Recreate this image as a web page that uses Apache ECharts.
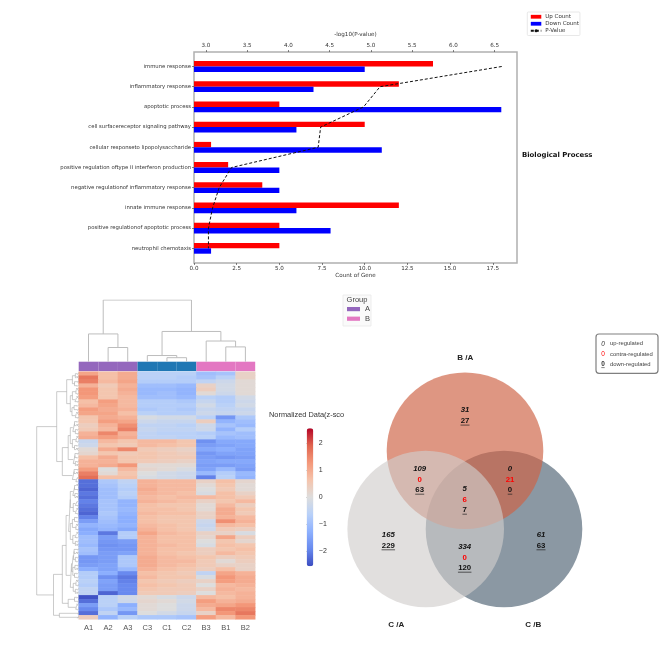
<!DOCTYPE html>
<html><head><meta charset="utf-8">
<style>html,body{margin:0;padding:0;background:#fff}#c{width:667px;height:667px;filter:blur(.3px)}</style>
<script src="https://cdn.jsdelivr.net/npm/echarts@6/dist/echarts.min.js"></script>
</head><body><div id="c"></div>
<script>
// ---------- bar chart data ----------
const terms = ['immune response','inflammatory response','apoptotic process','cell surfacereceptor signaling pathway','cellular responseto lipopolysaccharide','positive regulation oftype II interferon production','negative regulationof inflammatory response','innate immune response','positive regulationof apoptotic process','neutrophil chemotaxis'];
const upCount = [14,12,5,10,1,2,4,12,5,5];
const downCount = [10,7,18,6,11,5,5,6,8,1];
const pValue = [6.585,5.11,4.91,4.39,4.36,3.31,3.16,3.08,3.03,3.03];
const countTicks = [0,2.5,5,7.5,10,12.5,15,17.5];
const pTicks = [3,3.5,4,4.5,5,5.5,6,6.5];
// ---------- heatmap data ----------
const samples = ['A1','A2','A3','C3','C1','C2','B3','B1','B2'];
const sampleGroup = ['A','A','A','C','C','C','B','B','B'];
const heatRows = [
[1.1,.7,1,-.6,-.6,-.6,-1,-.9,.3],[1.7,.7,1,-.6,-.6,-.7,-.9,-.6,.3],[1.6,.8,1.1,-.7,-.7,-.7,-.5,-.3,.1],
[.9,.5,.9,-1,-1,-1.1,.3,-.2,.1],[1.3,.6,1,-1.1,-1.1,-1.2,.4,-.2,.1],[1.3,.6,.9,-1.1,-1,-1.2,.1,-.3,.1],
[1.2,.6,.8,-1,-1,-1.1,-.6,-.7,-.2],[.7,1.2,.8,-.7,-.7,-.8,-.4,-.7,-.3],[.8,1.1,.8,-.7,-.7,-.7,-.2,-.6,-.2],
[1.2,1,.9,-.8,-.7,-.8,-.4,-.5,-.4],[1.1,1.1,.7,-.6,-.7,-.7,-.3,-.4,-.3],[.6,1,.9,-.1,-.2,-.2,-.6,-1.7,-.8],
[.6,1.2,1.1,-.3,-.4,-.4,.4,-1.2,-1],[.4,.9,1.4,-.5,-.5,-.6,-.3,-.9,-1.1],[.5,.8,1.6,-.4,-.5,-.5,-.3,-1.2,-.7],
[.9,1.5,.9,-.5,-.6,-.6,-.7,-.9,-1],[1,1.2,1,-.5,-.5,-.6,-.6,-1.1,-1],[-.4,.8,.6,.8,.8,.6,-1.8,-1.4,-1.4],
[-.3,.6,.5,.8,.7,.6,-1.6,-1.5,-1.4],[.1,1,1.5,.5,.4,.3,-1.4,-1.3,-1.5],[.2,.6,.5,.6,.5,.4,-1.7,-1.5,-1.5],
[.7,1,.6,.6,.5,.5,-1.6,-1.7,-1.6],[.9,.9,.6,.5,.4,.3,-1.5,-1.4,-1.4],[.9,1,1.3,.1,.1,.1,-1.6,-1.6,-1.5],
[1.2,0,.8,.2,.1,-.1,-1.5,-1.1,-1.6],[1.6,.1,.6,0,-.2,-.3,-1.1,-.7,-1.1],[1.8,.7,.7,-.1,-.2,-.3,-2,-.6,-1.2],
[-2.2,-.8,-.5,.9,.8,.8,.3,.7,.2],[-2.2,-.9,-.6,.9,.8,.8,.1,.6,.1],[-2.3,-1,-.7,1,.8,.8,0,.5,.1],
[-2.1,-1,-.6,.9,.8,.7,-.1,.7,.3],[-2.2,-1,-.7,.8,.7,.8,.8,.7,.5],[-2,-.9,-1.2,.9,.8,.7,.3,.6,.8],
[-2.1,-.9,-1.2,.7,.6,.6,.1,.8,.4],[-2.2,-.9,-1.1,.7,.7,.6,.1,1,.6],[-2.3,-.8,-1.2,.8,.7,.7,.3,1,.5],
[-2,-.9,-1.3,.7,.6,.6,.3,.9,.8],[-1.6,-1,-1.3,.7,.6,.6,-.3,1.4,.9],[-1.2,-1.1,-1.2,.8,.7,.6,-.4,.8,.7],
[-1.4,-1.2,-1.4,.9,.7,.6,-.3,.5,.4],[-1.3,-2.1,-.7,1.1,.8,.7,.3,.3,-.1],[-1,-1.6,-.7,.9,.7,.7,.2,1.1,.4],
[-1,-1.7,-1.6,.9,.7,.7,0,.6,.2],[-1.1,-1.8,-1.7,.9,.8,.7,-.1,.7,.6],[-.9,-1.7,-1.7,.9,.7,.7,.4,.6,.7],
[-1,-1.6,-1.5,.9,.7,.6,.4,.8,.6],[-1.7,-1.6,-.8,1,.8,.7,.6,.4,.5],[-1.7,-1.6,-.8,1,.8,.8,.5,.1,.4],
[-1.6,-1.5,-.8,1,.8,.7,.5,.3,.3],[-1.3,-1.5,-1.1,.9,.7,.6,.4,.7,.3],[-.7,-1.3,-1.9,.7,.6,.5,-.5,1.1,.9],
[-.7,-1.8,-2.1,.8,.6,.6,-.1,1.3,1],[-.6,-1.5,-2,.6,.5,.4,.3,1.2,1],[-.7,-1.6,-1.9,.7,.6,.5,0,.8,.9],
[-.5,-1.6,-1.9,.6,.5,.5,.3,.9,.8],[-.5,-2.3,-1.9,.5,.5,.4,0,.8,.9],[-2.5,-.6,-.2,.1,-.1,-.3,.8,.7,.9],
[-2.2,-.6,-.3,.2,.1,-.2,1.2,.9,1],[-1.6,-.6,-1.3,.1,0,-.3,1,1.1,1.3],[-1.9,-.8,-1.1,.1,0,-.3,.8,1.5,1.5],
[-2.2,-.5,-1.7,0,-.2,-.4,.3,1.3,1.7],[.4,-1.2,-.6,-.8,-.8,-.9,1.2,.8,1.3]];
const colorTicks = [-2,-1,0,1,2];
const colorRange = 2.565;
// dendrogram merges: [posA, heightA, posB, heightB, mergeHeight]
const colMerges = [[1.5,0,2.5,0,.23],[.5,0,2,.23,.45],[4.5,0,5.5,0,.065],[3.5,0,5,.065,.1],[7.5,0,8.5,0,.24],[6.5,0,8,.24,.335],[4.25,.1,7.25,.335,.49],[1.25,.45,5.75,.49,1]];
const rowLeafHeights = [.03,.05,.02,.04,.06,.03,.05,.02,.04,.03,.06,.02,.04,.05,.03,.02,.05,.03,.04,.06,.02,.04,.03,.05,.02,.06,.03,.04,.05,.02,.03,.06,.04,.02,.05,.03,.04,.03,.06,.02,.05,.04,.03,.05,.02,.06,.03,.04,.02,.05,.04,.03,.06,.02,.03,.05,.04,.02,.05,.03,.02,.03];
const rowPairHeights = [.08,.1,.07,.09,.11,.08,.1,.08,.07,.1,.09,.08,.11,.07,.1,.09,.08,.08,.1,.07,.09,.08,.11,.08,.09,.1,.07,.08,.1,.07];
const rowMerges = [
[1,.08,3,.1,.15],[5,.07,7,.09,.15],[9,.11,11,.08,.16],[13,.1,15,.08,.14],[17,.07,19,.1,.15],[21,.09,23,.08,.13],[25,.11,27,.07,.15],
[29,.1,31,.09,.14],[33,.08,35,.08,.13],[37,.1,39,.07,.15],[41,.09,43,.08,.14],[45,.11,47,.08,.13],[49,.09,51,.1,.14],[53,.07,55,.08,.13],[57,.1,59,.07,.25],
[6,.15,10,.16,.2],[2,.15,8,.2,.286],[14,.14,18,.15,.2],[16,.2,22,.13,.25],[19,.25,26,.15,.39],[5,.286,22.5,.39,.524],
[30,.14,34,.13,.2],[38,.15,42,.14,.2],[32,.2,40,.2,.24],[46,.13,50,.14,.17],[48,.17,54,.13,.2],[36,.24,51,.2,.3],[43.5,.3,58,.25,.39],
[60.5,0,61.5,0,.46],[50.75,.39,61,.46,.6],[13.75,.524,55.9,.6,1]];
// ---------- venn data ----------
const vennSets = ['B /A','C /A','C /B'];
const vennRegionUp = [31,109,0,5,165,61,334];
const vennRegionContra = [null,0,21,6,null,null,0];
const vennRegionDown = [27,63,0,7,229,63,120];
// ---------- layout / style ----------
const vennCircleAt = [[125,110.7],[85.7,189],[164,189]];
const vennCircleColor = ['rgba(206,98,68,.67)','rgba(208,205,203,.64)','rgb(139,152,163)'];
const vennLabelAt = [[125.3,17.3],[56.3,285],[193.3,285]];
const vennRegionAt = [[125,70.3],[79.7,129],[170,129],[124.7,149],[48.3,195],[201,195],[124.7,207]];
const groupColor = {A:'#9467bd',B:'#e377c2',C:'#1f77b4'};
const coolwarm = ['#3b4cc0','#6889ee','#8db0fe','#b8d0f9','#dddddd','#f5c4ac','#f4987a','#e0654f','#b40426'];
const DJ = '"DejaVu Sans"', LS = '"Liberation Sans"';

function uPath(m, horizontal){
  const pts = [];
  m.forEach(([a,ha,b,hb,h]) => {
    if (horizontal) pts.push([a,ha],[a,h],[b,h],[b,hb],[null,null]);
    else pts.push([ha,a],[h,a],[h,b],[hb,b],[null,null]);
  });
  return pts;
}
const rowLeafMerges = rowLeafHeights.map((h,i)=>[i+.25,0,i+.75,0,h]);
const rowPairMerges = rowPairHeights.map((h,i)=>[2*i+.5,rowLeafHeights[2*i],2*i+1.5,rowLeafHeights[2*i+1],h]);
const hidden = (o)=>Object.assign({show:false},o);
const heatData = [];
heatRows.forEach((row,r)=>row.forEach((v,c)=>heatData.push([c,r,v])));

// venn text lines
const vennLines = [];
vennRegionUp.forEach((u,i)=>{
  const [x,y0]=vennRegionAt[i]; let y=y0;
  vennLines.push({x,y,t:String(u),k:'up'}); y+=10.4;
  if(vennRegionContra[i]!==null){vennLines.push({x,y,t:String(vennRegionContra[i]),k:'contra'}); y+=10.4;}
  vennLines.push({x,y,t:String(vennRegionDown[i]),k:'down'});
});

function txt(text,x,y,font,fill,align){return {type:'text',silent:true,x,y,style:{text,font,fill:fill||'#222',align:align||'left',verticalAlign:'middle'}};}

const chart = echarts.init(document.getElementById('c'),null,{renderer:'canvas'});
chart.setOption({
  animation:false, backgroundColor:'#fff',
  legend:{orient:'vertical',left:527.3,top:12,padding:[1.5,1,1.5,2.5],itemWidth:10.5,itemHeight:3.8,itemGap:0.5,
    borderColor:'#e2e2e2',borderWidth:.8,borderRadius:1,selectedMode:false,
    textStyle:{fontSize:5.5,fontFamily:DJ,color:'#333',lineHeight:6.5,padding:[0,0,0,-1]},
    data:[{name:'Up Count',icon:'rect'},{name:'Down Count',icon:'rect'},{name:'P-Value'}]},
  grid:[
    {left:194,top:56.4,width:323,height:202},
    {left:78.7,top:371.7,width:176.5,height:247.6},
    {left:78.7,top:361.7,width:176.5,height:9.4},
    {left:78.7,top:300,width:176.5,height:61.7},
    {left:36.7,top:371.7,width:42,height:247.6},
    {left:306.7,top:428.3,width:6.6,height:138},
    {left:340,top:340,width:240,height:300},
    {left:194,top:52,width:323,height:211,show:true,borderColor:'#b0b0b0',borderWidth:1.5,backgroundColor:'transparent'}
  ],
  xAxis:[
    {type:'value',gridIndex:0,min:0,max:18.92,position:'bottom',offset:4.6,splitLine:{show:false},axisLine:{show:false},
      axisTick:{show:true,length:2,customValues:countTicks,lineStyle:{color:'#333',width:.6}},
      axisLabel:{fontSize:5.6,fontFamily:DJ,color:'#333',margin:3,customValues:countTicks,formatter:v=>v.toFixed(1)},
      name:'Count of Gene',nameLocation:'middle',nameGap:10,nameTextStyle:{fontSize:5.6,fontFamily:DJ,color:'#333'}},
    {type:'value',gridIndex:0,min:2.855,max:6.77,position:'top',offset:4.4,splitLine:{show:false},axisLine:{show:false},
      axisTick:{show:true,length:2,customValues:pTicks,lineStyle:{color:'#333',width:.6}},
      axisLabel:{fontSize:5.6,fontFamily:DJ,color:'#333',margin:3,customValues:pTicks,formatter:v=>v.toFixed(1)},
      name:'-log10(P-value)',nameLocation:'middle',nameGap:14,nameTextStyle:{fontSize:5.6,fontFamily:DJ,color:'#333'}},
    {type:'category',gridIndex:1,data:samples,axisLine:{show:false},axisTick:{show:false},splitLine:{show:false},
      axisLabel:{fontSize:7.5,fontFamily:LS,color:'#555',margin:5,interval:0}},
    hidden({type:'category',gridIndex:2,data:samples}),
    hidden({type:'value',gridIndex:3,min:0,max:9}),
    hidden({type:'value',gridIndex:4,min:0,max:1,inverse:true}),
    hidden({type:'value',gridIndex:5,min:0,max:1}),
    hidden({type:'value',gridIndex:6,min:0,max:240})
  ],
  yAxis:[
    {type:'category',gridIndex:0,inverse:true,data:terms,axisLine:{show:false},
      axisTick:{show:true,length:2,alignWithLabel:true,lineStyle:{color:'#333',width:.6}},
      axisLabel:{fontSize:5.3,fontFamily:DJ,color:'#333',margin:3,interval:0}},
    hidden({type:'category',gridIndex:1,inverse:true,data:heatRows.map((_,i)=>i)}),
    hidden({type:'value',gridIndex:2,min:0,max:1}),
    hidden({type:'value',gridIndex:3,min:0,max:1}),
    hidden({type:'value',gridIndex:4,min:0,max:62,inverse:true}),
    {type:'value',gridIndex:5,position:'right',min:-colorRange,max:colorRange,splitLine:{show:false},axisLine:{show:false},
      axisTick:{show:true,length:3,customValues:colorTicks,lineStyle:{color:'#444',width:.7}},
      axisLabel:{fontSize:7,fontFamily:LS,color:'#333',margin:5.5,customValues:colorTicks,formatter:v=>String(v).replace('-','\u2212')}},
    hidden({type:'value',gridIndex:6,min:0,max:300,inverse:true})
  ],
  visualMap:{type:'continuous',seriesIndex:3,min:-colorRange,max:colorRange,left:306.7,top:428.3,itemWidth:6.6,itemHeight:138,padding:0,
    calculable:false,show:true,inRange:{color:coolwarm},textStyle:{fontSize:1,color:'transparent'}},
  series:[
    {name:'Up Count',type:'bar',xAxisIndex:0,yAxisIndex:0,data:upCount,barWidth:5.4,barGap:'0%',itemStyle:{color:'#ff0000'},silent:true},
    {name:'Down Count',type:'bar',xAxisIndex:0,yAxisIndex:0,data:downCount,barWidth:5.4,barGap:'0%',itemStyle:{color:'#0000ff'},silent:true},
    {name:'P-Value',type:'line',xAxisIndex:1,yAxisIndex:0,data:pValue.map((p,i)=>[p,i]),symbol:'none',z:5,silent:true,
      lineStyle:{color:'#111',type:[3,2],width:1},itemStyle:{color:'#111'}},
    {type:'heatmap',xAxisIndex:2,yAxisIndex:1,data:heatData,silent:true,progressive:0},
    {type:'bar',xAxisIndex:3,yAxisIndex:2,barWidth:'100%',silent:true,
      data:sampleGroup.map(g=>({value:1,itemStyle:{color:groupColor[g]}}))},
    {type:'line',xAxisIndex:4,yAxisIndex:3,data:uPath(colMerges,true),symbol:'none',connectNulls:false,silent:true,lineStyle:{color:'#bdbdbd',width:1}},
    {type:'line',xAxisIndex:5,yAxisIndex:4,data:uPath(rowLeafMerges.concat(rowPairMerges,rowMerges),false),symbol:'none',connectNulls:false,silent:true,lineStyle:{color:'#a8a8a8',width:.6}},
    {type:'scatter',xAxisIndex:7,yAxisIndex:6,silent:true,symbol:'circle',symbolSize:156.6,z:2,
      data:[2,0,1].map(i=>({value:vennCircleAt[i],itemStyle:{color:vennCircleColor[i],opacity:1}}))},
    {type:'custom',xAxisIndex:7,yAxisIndex:6,silent:true,z:6,clip:false,
      data:vennLines.map(l=>[l.x,l.y]),encode:{x:0,y:1},
      renderItem:(p,api)=>{
        const l=vennLines[p.dataIndex]; const c=api.coord([l.x,l.y]);
        const font=(l.k==='up'?'italic bold ':'bold ')+'7.8px '+LS;
        const kids=[{type:'text',style:{text:l.t,x:c[0],y:c[1],align:'center',verticalAlign:'middle',font,fill:l.k==='contra'?'#ff0000':'#111'}}];
        if(l.k==='down'){const w=l.t.length*4.5;kids.push({type:'line',shape:{x1:c[0]-w/2,y1:c[1]+4.4,x2:c[0]+w/2,y2:c[1]+4.4},style:{stroke:'#222',lineWidth:.7}});}
        return {type:'group',children:kids};
      }},
    {type:'custom',xAxisIndex:7,yAxisIndex:6,silent:true,z:6,clip:false,
      data:vennLabelAt,encode:{x:0,y:1},
      renderItem:(p,api)=>{const c=api.coord(vennLabelAt[p.dataIndex]);
        return {type:'text',style:{text:vennSets[p.dataIndex],x:c[0],y:c[1],align:'center',verticalAlign:'middle',font:'bold 8px '+LS,fill:'#222'}};}}
  ],
  graphic:[
    txt('Biological Process',522,155,'bold 6.9px '+DJ,'#111'),
    txt('Normalized Data(z-sco',269,415,'7.4px '+LS,'#333'),
    {type:'rect',silent:true,shape:{x:343,y:295,width:28,height:31},style:{fill:'#fafafa',stroke:'#e8e8e8',lineWidth:.8}},
    txt('Group',357,300,'7.5px '+LS,'#444','center'),
    {type:'rect',silent:true,shape:{x:347,y:307,width:13,height:4.2},style:{fill:groupColor.A}},
    {type:'rect',silent:true,shape:{x:347,y:316.6,width:13,height:4.2},style:{fill:groupColor.B}},
    txt('A',365,309,'7.5px '+LS,'#444'),
    txt('B',365,318.7,'7.5px '+LS,'#444'),
    {type:'rect',silent:true,shape:{x:596,y:334,width:62,height:39.3,r:3},style:{fill:'#fff',stroke:'#808080',lineWidth:1.2}},
    txt('0',603,343.7,'italic 6.5px '+LS,'#333','center'),
    txt('up-regulated',610,343.7,'5.9px '+LS,'#444'),
    txt('0',603,354,'6.5px '+LS,'#ff0000','center'),
    txt('contra-regulated',610,354,'5.9px '+LS,'#444'),
    txt('0',603,364.3,'bold 6.5px '+LS,'#333','center'),
    {type:'line',silent:true,shape:{x1:601.3,y1:367.6,x2:604.7,y2:367.6},style:{stroke:'#333',lineWidth:.6}},
    txt('down-regulated',610,364.3,'5.9px '+LS,'#444')
  ]
});
</script></body></html>
